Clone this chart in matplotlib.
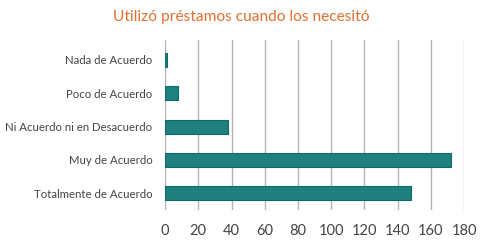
import matplotlib
matplotlib.use("Agg")
import matplotlib.pyplot as plt

# Datos
categorias = ["Totalmente de Acuerdo", "Muy de Acuerdo", "Ni Acuerdo ni en Desacuerdo",
              "Poco de Acuerdo", "Nada de Acuerdo"]
valores = [148, 172, 38, 8, 1]
ticks_x = [0, 20, 40, 60, 80, 100, 120, 140, 160, 180]

plt.rcParams['font.family'] = ['Lato', 'DejaVu Sans']

fig = plt.figure(figsize=(4.87, 2.45), dpi=100)
ax = fig.add_axes([0.339, 0.143, 0.614, 0.694])

pos = list(range(len(categorias)))
ax.barh(pos, valores, height=0.42, color="#1f8080", edgecolor="#0e6b6b", linewidth=0.8, zorder=3)

ax.set_xlim(0, 180)
ax.set_ylim(-0.5, 4.6)
ax.set_xticks(ticks_x)
ax.set_yticks(pos)
ax.set_yticklabels(categorias)
ax.grid(axis="x", color="#b4b4bc", linewidth=1, zorder=0)
for s in ax.spines.values():
    s.set_visible(False)
ax.tick_params(axis="both", length=0, colors="#444444")
ax.tick_params(axis="y", pad=9, labelsize=8.2)
ax.tick_params(axis="x", pad=10, labelsize=10.5)

fig.text(0.495, 0.93, "Utilizó préstamos cuando los necesitó", ha="center", va="center",
         color="#e07030", fontsize=11.2)

plt.savefig("out.png", dpi=100)
